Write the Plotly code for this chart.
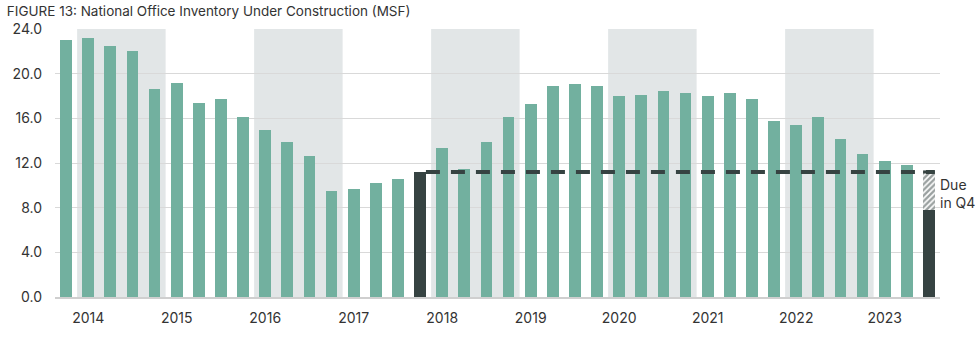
import plotly.graph_objects as go

# ---- data ----
quarters = (["2013 Q4"] +
            [f"{y} Q{q}" for y in range(2014, 2023) for q in range(1, 5)] +
            ["2023 Q1", "2023 Q2", "2023 Q3"])
inventory_msf = [23.0, 23.2, 22.5, 22.0, 18.6, 19.2, 17.4, 17.7, 16.1, 15.0,
                 13.9, 12.6, 9.5, 9.7, 10.2, 10.6, 11.2, 13.3, 11.5, 13.9,
                 16.1, 17.3, 18.9, 19.05, 18.9, 18.0, 18.1, 18.45, 18.3, 18.0,
                 18.3, 17.7, 15.8, 15.4, 16.1, 14.15, 12.8, 12.2, 11.8, 7.8]
due_in_q4 = [0] * 39 + [3.4]
highlight_quarters = ["2017 Q4", "2023 Q3"]
reference_quarter = "2017 Q4"
shaded_years = [2014, 2016, 2018, 2020, 2022]
year_labels = [str(y) for y in range(2014, 2024)]
year_tick_quarters = [f"{y} Q1" for y in range(2014, 2024)]
y_ticks = [0, 4, 8, 12, 16, 20, 24]

TEAL = "#72b09f"
DARK = "#364342"
BAND = "#e2e6e7"
GRID = "#d9d9d9"
TEXT = "#333333"
FONT = "Inter"

colors = [DARK if q in highlight_quarters else TEAL for q in quarters]
ref_idx = quarters.index(reference_quarter)
ref_val = inventory_msf[ref_idx]
last_idx = len(quarters) - 1
BW = 0.53

fig = go.Figure()
fig.add_trace(go.Bar(x=quarters, y=inventory_msf, marker=dict(color=colors, line=dict(width=0)),
                     width=BW, name="Under construction"))
fig.add_trace(go.Bar(x=quarters, y=due_in_q4, width=BW, name="Due in Q4",
                     marker=dict(color="white", line=dict(width=0),
                                 pattern=dict(shape="/", fgcolor=DARK, bgcolor="white",
                                              size=4, solidity=0.6))))

shapes = []
for yr in shaded_years:
    i0 = quarters.index(f"{yr} Q1")
    i1 = quarters.index(f"{yr} Q4")
    shapes.append(dict(type="rect", xref="x", yref="paper", x0=i0 - 0.5, x1=i1 + 0.5,
                       y0=0, y1=1, fillcolor=BAND, line=dict(width=0), layer="below"))
shapes.append(dict(type="line", xref="x", yref="y", x0=ref_idx + BW / 2, x1=last_idx + BW / 2,
                   y0=ref_val, y1=ref_val, line=dict(color=DARK, width=4, dash="14px,11px"),
                   layer="above"))
shapes.append(dict(type="line", xref="x", yref="y", x0=last_idx - BW / 2, x1=last_idx + BW / 2,
                   y0=ref_val, y1=ref_val, line=dict(color=DARK, width=3), layer="above"))

fig.update_layout(
    barmode="stack",
    width=980, height=340,
    margin=dict(l=52, r=40, t=29, b=43),
    paper_bgcolor="white", plot_bgcolor="rgba(0,0,0,0)",
    showlegend=False,
    shapes=shapes,
    font=dict(family=FONT, color=TEXT, size=14),
    title=dict(text="FIGURE 13: National Office Inventory Under Construction (MSF)",
               x=0.007, xanchor="left", y=0.966, yanchor="middle",
               font=dict(family=FONT, size=13.5, color=TEXT)),
    xaxis=dict(type="category", categoryorder="array", categoryarray=quarters,
               range=[-0.5, len(quarters) - 0.5],
               tickvals=year_tick_quarters, ticktext=year_labels, ticks="",
               showgrid=False, showline=True, linecolor="#cfcfcf", linewidth=1.5,
               tickfont=dict(family=FONT, size=14, color=TEXT), ticklabelstandoff=7),
    yaxis=dict(range=[0, 24], tickvals=y_ticks, ticktext=[f"{v:.1f}" for v in y_ticks],
               showgrid=True, gridcolor=GRID, gridwidth=1, zeroline=False, ticks="",
               tickfont=dict(family=FONT, size=14, color=TEXT), ticklabelstandoff=12),
    annotations=[dict(x=last_idx + 0.42, y=9.3, xref="x", yref="y", text="Due<br>in Q4",
                      showarrow=False, xanchor="left", yanchor="middle", align="left",
                      font=dict(family=FONT, size=14, color=TEXT))],
)

fig.write_html("out.html")
